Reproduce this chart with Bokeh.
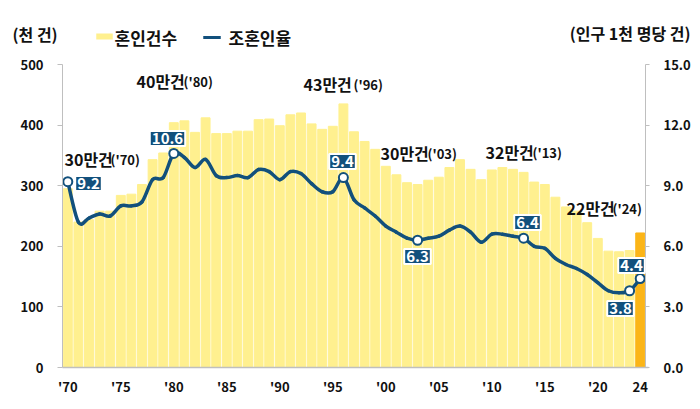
import numpy as np
from bokeh.plotting import figure
from bokeh.models import Range1d, LinearAxis, Label, FixedTicker, PrintfTickFormatter, ColumnDataSource
from bokeh.embed import file_html
from bokeh.resources import INLINE

# ---------------- data ----------------
years = list(range(1970, 2025))
marriages = [295, 240, 244, 258, 258, 284, 286, 302, 343, 354,
             404, 407, 388, 412, 386, 386, 390, 390, 409, 410,
             399, 417, 420, 402, 393, 398, 435, 389, 373, 360,
             332, 318, 305, 302, 309, 314, 330, 343, 327, 310,
             326, 330, 327, 322, 306, 302, 281, 265, 258, 239,
             213, 192, 191, 193, 222]
rates = [9.2, 7.2, 7.4, 7.6, 7.5, 8.0, 8.0, 8.2, 9.3, 9.4,
         10.6, 10.4, 9.9, 10.3, 9.5, 9.4, 9.5, 9.4, 9.8, 9.7,
         9.3, 9.7, 9.6, 9.1, 8.7, 8.7, 9.4, 8.3, 7.9, 7.5,
         7.0, 6.7, 6.4, 6.3, 6.4, 6.5, 6.8, 7.0, 6.7, 6.2,
         6.6, 6.6, 6.5, 6.4, 6.0, 5.9, 5.4, 5.1, 4.9, 4.6,
         4.2, 3.8, 3.7, 3.8, 4.4]
marked_years = [1970, 1980, 1996, 2003, 2013, 2023, 2024]
peak_main = ["30만건", "40만건", "43만건", "30만건", "32만건", "22만건"]
peak_tag = ["('70)", "('80)", "('96)", "('03)", "('13)", "('24)"]
x_tick_years = [1970, 1975, 1980, 1985, 1990, 1995, 2000, 2005, 2010, 2015, 2020, 2024]
x_tick_labels = ["'70", "'75", "'80", "'85", "'90", "'95", "'00", "'05", "'10", "'15", "'20", "24"]
left_ticks = [0, 100, 200, 300, 400, 500]
right_ticks = [0, 3, 6, 9, 12, 15]
series_names = ["혼인건수", "조혼인율"]
left_title = "(천 건)"
right_title = "(인구 1천 명당 건)"

# ---------------- styles ----------------
FONT = "Noto Sans CJK KR"
BAR = "#FFF08F"
BAR_LAST = "#FBB518"
BLUE = "#12507C"
AXIS = "#BFBFBF"
TXT = "#111111"

W, H = 700, 409
# plotting area inside the canvas (page pixels)
FL, FR, FT, FB = 62, 645, 64, 367
XMIN, XMAX = 1969.5, 2024.5
YMAX, RMAX = 500, 15

def dx(px):
    return XMIN + (px - FL) / (FR - FL) * (XMAX - XMIN)

def dy(py):
    return (FB - py) / (FB - FT) * YMAX

def dr(py):
    return (FB - py) / (FB - FT) * RMAX

# the frame covers the whole canvas; axes are pinned at the plotting-area edges
p = figure(width=W, height=H, output_backend="svg", toolbar_location=None,
           x_range=Range1d(dx(0), dx(W)), y_range=Range1d(dy(H), dy(0)),
           min_border_left=0, min_border_right=0, min_border_top=0, min_border_bottom=0)
p.extra_y_ranges = {"rate": Range1d(dr(H), dr(0))}
p.outline_line_color = None
p.xgrid.visible = False
p.ygrid.visible = False

colors = [BAR] * (len(years) - 1) + [BAR_LAST]
src = ColumnDataSource(dict(x=years, top=marriages, color=colors))
p.vbar(x="x", top="top", bottom=0, width=0.84, color="color", source=src)

# smoothed line: Catmull-Rom curve as Bezier segments through the data points
xs = np.array(years, dtype=float)
ys = np.array(rates, dtype=float)
n = len(xs)
xp = np.concatenate([[xs[0]], xs, [xs[-1]]])
yp = np.concatenate([[ys[0]], ys, [ys[-1]]])
seg = dict(x0=xs[:-1], y0=ys[:-1], x1=xs[1:], y1=ys[1:],
           cx0=xs[:-1] + (xp[2:n + 1] - xp[0:n - 1]) / 6,
           cy0=ys[:-1] + (yp[2:n + 1] - yp[0:n - 1]) / 6,
           cx1=xs[1:] - (xp[3:n + 2] - xp[1:n]) / 6,
           cy1=ys[1:] - (yp[3:n + 2] - yp[1:n]) / 6)
p.bezier(x0="x0", y0="y0", x1="x1", y1="y1", cx0="cx0", cy0="cy0", cx1="cx1", cy1="cy1",
         source=ColumnDataSource(seg), line_color=BLUE, line_width=3.5, line_cap="round",
         y_range_name="rate")

mr = [rates[years.index(y)] for y in marked_years]
p.scatter(marked_years, mr, size=9, fill_color="white", line_color=BLUE, line_width=2,
          y_range_name="rate")

def style_axis(a, tick_out, standoff):
    a.major_tick_out = tick_out
    a.major_tick_in = 0
    a.minor_tick_out = 0
    a.minor_tick_in = 0
    a.axis_line_color = AXIS
    a.major_tick_line_color = AXIS
    a.major_label_standoff = standoff
    a.major_label_text_font = FONT
    a.major_label_text_font_style = "bold"
    a.major_label_text_font_size = "13px"
    a.major_label_text_color = TXT

ax = p.xaxis[0]
ax.ticker = FixedTicker(ticks=x_tick_years)
ax.major_label_overrides = {y: l for y, l in zip(x_tick_years, x_tick_labels)}
ax.fixed_location = 0
ax.bounds = (XMIN, XMAX + 0.3)
style_axis(ax, 0, 9)
ax.axis_line_width = 1.5

ay = p.yaxis[0]
ay.ticker = FixedTicker(ticks=left_ticks)
ay.fixed_location = XMIN
ay.bounds = (0, YMAX)
style_axis(ay, 5, 14)

ar = LinearAxis(y_range_name="rate", ticker=FixedTicker(ticks=right_ticks),
                formatter=PrintfTickFormatter(format="%.1f"),
                fixed_location=XMAX, bounds=(0, RMAX))
style_axis(ar, 4, 14)
p.add_layout(ar, "right")

def txt(px, py, text, size, align="left", color=TXT, **kw):
    return Label(x=dx(px), y=dy(py), text=text, text_font=FONT, text_font_style="bold",
                 text_font_size=size, text_color=color, text_align=align,
                 text_baseline="middle", **kw)

# titles and legend
p.add_layout(txt(12, 33, left_title, "16px"))
p.add_layout(txt(690, 32, right_title, "16px", align="right"))
p.add_layout(Label(x=dx(104), y=dy(36), text="\u2003\u2003\u2003", text_font_size="5.5px",
                   text_align="center", text_baseline="middle", background_fill_color=BAR))
p.add_layout(txt(114, 37, series_names[0], "17px"))
p.add_layout(Label(x=dx(211.5), y=dy(37), text="\u2003" * 7, text_font_size="2.5px",
                   text_align="center", text_baseline="middle", background_fill_color=BLUE))
p.add_layout(txt(228, 37, series_names[1], "17px"))

# peak annotations
main_pos = [(64, 158), (136, 80), (303, 83), (380, 152), (485, 151), (566, 207)]
tag_pos = [110, 183, 353, 427, 532, 612]
for (mx, my), tx, m, t in zip(main_pos, tag_pos, peak_main, peak_tag):
    p.add_layout(txt(mx, my, m, "16px"))
    p.add_layout(txt(tx, my + 1, t, "13px"))

# value boxes
box_pos = [(88, 183), (167, 138), (342, 161), (417, 256), (527, 222), (620, 308), (631, 265)]
for (bx, by), v in zip(box_pos, mr):
    p.add_layout(Label(x=dx(bx), y=dy(by), text=f"{v:.1f}", text_font=FONT,
                       text_font_style="bold", text_font_size="15px", text_color="white",
                       text_align="center", text_baseline="middle",
                       background_fill_color=BLUE, border_line_color="white",
                       border_line_width=2, padding=2))

open("out.html", "w").write(file_html(p, INLINE))
